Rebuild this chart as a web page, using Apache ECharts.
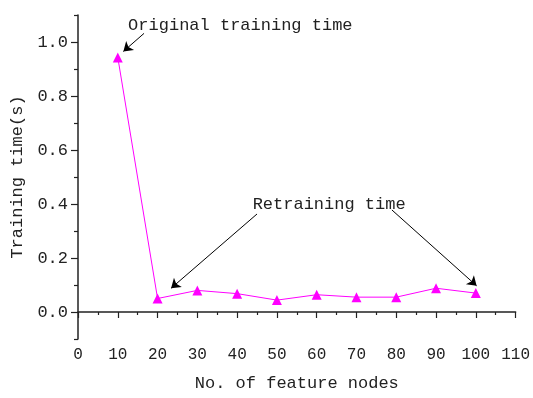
<!DOCTYPE html>
<html>
<head>
<meta charset="utf-8">
<script src="https://cdn.jsdelivr.net/npm/echarts@6/dist/echarts.min.js"></script>
<style>
  html, body { margin: 0; padding: 0; background: #fff; }
  #chart { width: 533px; height: 398px; }
</style>
</head>
<body>
<div id="chart"></div>
<script>
// Training time versus number of feature nodes
const featureNodes = [10, 20, 30, 40, 50, 60, 70, 80, 90, 100];
const trainingTime = [0.943, 0.050, 0.080, 0.068, 0.044, 0.064, 0.055, 0.055, 0.088, 0.070];

const yMajorTicks = [0, 0.2, 0.4, 0.6, 0.8, 1.0];
const yMinorTicks = [-0.1, 0.1, 0.3, 0.5, 0.7, 0.9, 1.1];

// Annotation callouts: [text anchor], arrows [from, to] in data units
const originalLabel = { text: 'Original training time', at: [12.6, 1.062] };
const retrainLabel = { text: 'Retraining time', at: [43.9, 0.400] };
const arrows = [
  [[16.6, 1.032], [11.4, 0.965]],
  [[45.0, 0.363], [23.4, 0.088]],
  [[78.9, 0.378], [100.2, 0.097]]
];

const FONT = '"Liberation Mono", "DejaVu Sans Mono", monospace';
const INK = '#222';

const chart = echarts.init(document.getElementById('chart'), null, { renderer: 'canvas' });

const axisLine = { show: true, lineStyle: { color: INK, width: 1.5 } };

chart.setOption({
  animation: false,
  grid: { left: 78, right: 17, top: 15, bottom: 59 },
  xAxis: {
    type: 'value',
    min: 0, max: 110, interval: 10,
    name: 'No. of feature nodes',
    nameLocation: 'middle',
    nameGap: 36,
    nameTextStyle: { fontFamily: FONT, fontSize: 17, color: INK },
    axisLine: axisLine,
    axisTick: { show: true, inside: false, length: 6, lineStyle: { color: INK, width: 1.2 } },
    minorTick: { show: true, splitNumber: 2, length: 3, lineStyle: { color: INK, width: 1.2 } },
    axisLabel: { fontFamily: FONT, fontSize: 16, color: INK, margin: 8 },
    splitLine: { show: false }
  },
  yAxis: [{
    type: 'value',
    min: -0.1, max: 1.1,
    name: 'Training time(s)',
    nameLocation: 'middle',
    nameGap: 50,
    nameRotate: 90,
    nameTextStyle: { fontFamily: FONT, fontSize: 17, color: INK },
    axisLine: axisLine,
    axisTick: { show: true, length: 7, customValues: yMajorTicks, lineStyle: { color: INK, width: 1.2 } },
    axisLabel: {
      fontFamily: FONT, fontSize: 17, color: INK, margin: 10,
      customValues: yMajorTicks,
      formatter: v => v.toFixed(1)
    },
    splitLine: { show: false }
  }, {
    type: 'value',
    min: -0.1, max: 1.1,
    position: 'left',
    axisLine: { show: false },
    axisTick: { show: true, length: 4, customValues: yMinorTicks, lineStyle: { color: INK, width: 1.2 } },
    axisLabel: { show: false },
    splitLine: { show: false }
  }],
  series: [{
    type: 'line',
    data: featureNodes.map((x, i) => [x, trainingTime[i]]),
    symbol: 'triangle',
    symbolSize: 10,
    lineStyle: { color: '#ff00ff', width: 1 },
    itemStyle: { color: '#ff00ff' },
    markLine: {
      silent: true,
      symbol: ['none', 'arrow'],
      symbolSize: 9,
      label: { show: false },
      lineStyle: { color: '#000', width: 1, type: 'solid' },
      data: arrows.map(a => [{ coord: a[0] }, { coord: a[1] }])
    }
  }]
});

// Callout texts anchored in data coordinates
function placeTexts() {
  const items = [originalLabel, retrainLabel].map(l => {
    const p = chart.convertToPixel({ gridIndex: 0 }, l.at);
    return {
      type: 'text',
      x: p[0], y: p[1],
      style: {
        text: l.text,
        font: '17px ' + FONT,
        fill: INK,
        verticalAlign: 'middle',
        align: 'left'
      }
    };
  });
  chart.setOption({ graphic: items });
}
placeTexts();
</script>
</body>
</html>
